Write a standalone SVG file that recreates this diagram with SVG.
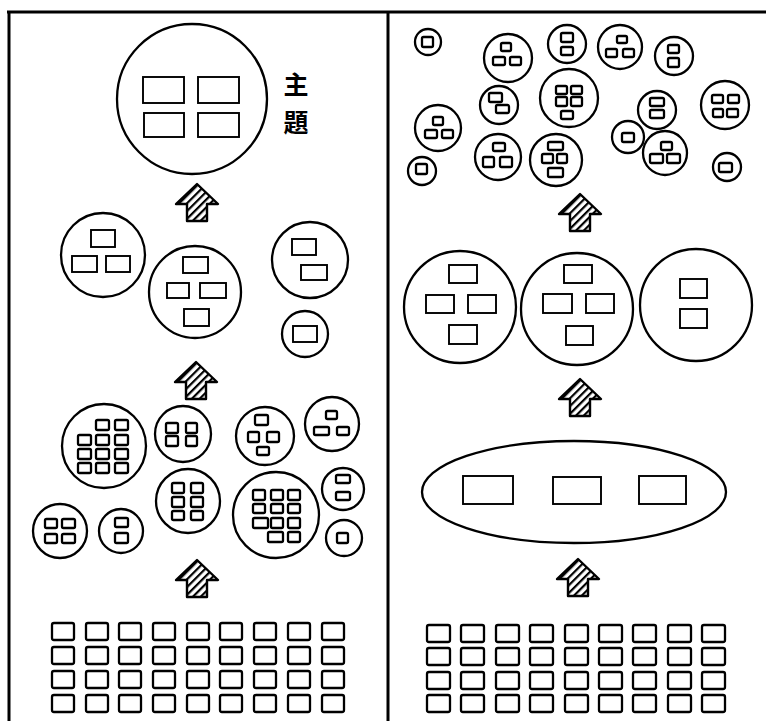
<svg xmlns="http://www.w3.org/2000/svg" width="766" height="721" viewBox="0 0 766 721">
<style>
.f{stroke:#000;stroke-width:3;fill:none}
.c{fill:none;stroke:#000;stroke-width:2.3}
.r{fill:none;stroke:#000;stroke-width:1.9}
.s{fill:none;stroke:#000;stroke-width:2.3}
.t{font-family:"Noto Sans CJK TC","Noto Sans CJK SC",sans-serif;font-size:25px;font-weight:bold;fill:#000;text-anchor:middle}
</style>
<defs>
<pattern id="hatch" patternUnits="userSpaceOnUse" width="5.5" height="5.5" patternTransform="rotate(45)">
<line x1="1" y1="0" x2="1" y2="5.5" stroke="#000" stroke-width="2.4"/>
</pattern>
<path id="arrow" d="M0,0 L21,20 L10,20 L10,37 L-10,37 L-10,20 L-21,20 Z" fill="url(#hatch)" stroke="#000" stroke-width="2.4" stroke-linejoin="round"/>
</defs>
<rect width="766" height="721" fill="#fff"/>
<g id="frame">
<line class="f" x1="7" y1="12" x2="766" y2="12"/>
<line class="f" x1="9" y1="11" x2="9" y2="721"/>
<line class="f" x1="388" y1="12" x2="388" y2="721"/>
</g>
<g id="connectors">
<use href="#arrow" x="197" y="184"/>
<use href="#arrow" x="196" y="362"/>
<use href="#arrow" x="197" y="560"/>
<use href="#arrow" x="580" y="194"/>
<use href="#arrow" x="580" y="379"/>
<use href="#arrow" x="578" y="559"/>
</g>
<g id="theme">
<circle class="c" cx="192" cy="99" r="75"/>
<rect class="r" x="143" y="77" width="41" height="26"/>
<rect class="r" x="198" y="77" width="41" height="26"/>
<rect class="r" x="144" y="113" width="40" height="24"/>
<rect class="r" x="198" y="113" width="41" height="24"/>
<text class="t" x="296" y="94">主</text>
<text class="t" x="296" y="132">題</text>
</g>
<g id="L2a"><circle class="c" cx="103" cy="255" r="42"/>
<rect class="r" x="91" y="230" width="24" height="17"/><rect class="r" x="72" y="256" width="25" height="16"/><rect class="r" x="106" y="256" width="24" height="16"/></g>
<g id="L2b"><circle class="c" cx="195" cy="292" r="46"/>
<rect class="r" x="183" y="257" width="25" height="16"/><rect class="r" x="167" y="283" width="22" height="15"/><rect class="r" x="200" y="283" width="26" height="15"/><rect class="r" x="184" y="309" width="25" height="17"/></g>
<g id="L2c"><circle class="c" cx="310" cy="260" r="38"/>
<rect class="r" x="292" y="239" width="24" height="16"/><rect class="r" x="301" y="265" width="26" height="15"/></g>
<g id="L2d"><circle class="c" cx="305" cy="334" r="23"/>
<rect class="r" x="293" y="326" width="24" height="16"/></g>
<g id="L3a"><circle class="c" cx="104" cy="446" r="42"/>
<rect class="s" x="96" y="420" width="13" height="10" rx="1.5"/><rect class="s" x="115" y="420" width="13" height="10" rx="1.5"/>
<rect class="s" x="78" y="435" width="13" height="10" rx="1.5"/><rect class="s" x="96" y="435" width="13" height="10" rx="1.5"/><rect class="s" x="115" y="435" width="13" height="10" rx="1.5"/>
<rect class="s" x="78" y="449" width="13" height="10" rx="1.5"/><rect class="s" x="96" y="449" width="13" height="10" rx="1.5"/><rect class="s" x="115" y="449" width="13" height="10" rx="1.5"/>
<rect class="s" x="78" y="463" width="13" height="10" rx="1.5"/><rect class="s" x="96" y="463" width="13" height="10" rx="1.5"/><rect class="s" x="115" y="463" width="13" height="10" rx="1.5"/></g>
<g id="L3b"><circle class="c" cx="183" cy="434" r="28"/>
<rect class="s" x="166" y="423" width="12" height="10" rx="1.5"/><rect class="s" x="186" y="423" width="11" height="10" rx="1.5"/>
<rect class="s" x="166" y="436" width="12" height="10" rx="1.5"/><rect class="s" x="186" y="436" width="11" height="10" rx="1.5"/></g>
<g id="L3c"><circle class="c" cx="265" cy="436" r="29"/>
<rect class="s" x="255" y="415" width="13" height="10" rx="1.5"/><rect class="s" x="248" y="432" width="11" height="10" rx="1.5"/><rect class="s" x="267" y="432" width="12" height="10" rx="1.5"/><rect class="s" x="257" y="447" width="12" height="8" rx="1.5"/></g>
<g id="L3d"><circle class="c" cx="332" cy="424" r="27"/>
<rect class="s" x="326" y="411" width="11" height="8" rx="1.5"/><rect class="s" x="314" y="427" width="15" height="8" rx="1.5"/><rect class="s" x="337" y="427" width="12" height="8" rx="1.5"/></g>
<g id="L3e"><circle class="c" cx="188" cy="501" r="32"/>
<rect class="s" x="172" y="483" width="12" height="10" rx="1.5"/><rect class="s" x="191" y="483" width="12" height="10" rx="1.5"/>
<rect class="s" x="172" y="497" width="12" height="10" rx="1.5"/><rect class="s" x="191" y="497" width="12" height="10" rx="1.5"/>
<rect class="s" x="172" y="511" width="12" height="9" rx="1.5"/><rect class="s" x="191" y="511" width="12" height="9" rx="1.5"/></g>
<g id="L3f"><circle class="c" cx="276" cy="515" r="43"/>
<rect class="s" x="253" y="490" width="12" height="10" rx="1.5"/><rect class="s" x="271" y="490" width="12" height="10" rx="1.5"/><rect class="s" x="288" y="490" width="12" height="10" rx="1.5"/>
<rect class="s" x="253" y="504" width="12" height="9" rx="1.5"/><rect class="s" x="271" y="504" width="12" height="9" rx="1.5"/><rect class="s" x="288" y="504" width="12" height="9" rx="1.5"/>
<rect class="s" x="253" y="518" width="15" height="10" rx="1.5"/><rect class="s" x="271" y="518" width="12" height="10" rx="1.5"/><rect class="s" x="288" y="518" width="12" height="10" rx="1.5"/>
<rect class="s" x="268" y="532" width="15" height="10" rx="1.5"/><rect class="s" x="288" y="532" width="12" height="10" rx="1.5"/></g>
<g id="L3g"><circle class="c" cx="343" cy="489" r="21"/>
<rect class="s" x="336" y="475" width="14" height="8" rx="1.5"/><rect class="s" x="336" y="492" width="14" height="8" rx="1.5"/></g>
<g id="L3h"><circle class="c" cx="344" cy="538" r="18"/>
<rect class="s" x="337" y="533" width="11" height="10" rx="1.5"/></g>
<g id="L3i"><circle class="c" cx="60" cy="531" r="27"/>
<rect class="s" x="45" y="519" width="12" height="9" rx="1.5"/><rect class="s" x="62" y="519" width="13" height="9" rx="1.5"/>
<rect class="s" x="45" y="534" width="12" height="9" rx="1.5"/><rect class="s" x="62" y="534" width="13" height="9" rx="1.5"/></g>
<g id="L3j"><circle class="c" cx="121" cy="531" r="22"/>
<rect class="s" x="115" y="518" width="13" height="9" rx="1.5"/><rect class="s" x="115" y="533" width="13" height="10" rx="1.5"/></g>
<g id="gridL">
<rect class="s" x="52" y="623" width="22" height="17" rx="2"/><rect class="s" x="86" y="623" width="22" height="17" rx="2"/><rect class="s" x="119" y="623" width="22" height="17" rx="2"/><rect class="s" x="153" y="623" width="22" height="17" rx="2"/><rect class="s" x="187" y="623" width="22" height="17" rx="2"/><rect class="s" x="220" y="623" width="22" height="17" rx="2"/><rect class="s" x="254" y="623" width="22" height="17" rx="2"/><rect class="s" x="288" y="623" width="22" height="17" rx="2"/><rect class="s" x="322" y="623" width="22" height="17" rx="2"/>
<rect class="s" x="52" y="647" width="22" height="17" rx="2"/><rect class="s" x="86" y="647" width="22" height="17" rx="2"/><rect class="s" x="119" y="647" width="22" height="17" rx="2"/><rect class="s" x="153" y="647" width="22" height="17" rx="2"/><rect class="s" x="187" y="647" width="22" height="17" rx="2"/><rect class="s" x="220" y="647" width="22" height="17" rx="2"/><rect class="s" x="254" y="647" width="22" height="17" rx="2"/><rect class="s" x="288" y="647" width="22" height="17" rx="2"/><rect class="s" x="322" y="647" width="22" height="17" rx="2"/>
<rect class="s" x="52" y="671" width="22" height="17" rx="2"/><rect class="s" x="86" y="671" width="22" height="17" rx="2"/><rect class="s" x="119" y="671" width="22" height="17" rx="2"/><rect class="s" x="153" y="671" width="22" height="17" rx="2"/><rect class="s" x="187" y="671" width="22" height="17" rx="2"/><rect class="s" x="220" y="671" width="22" height="17" rx="2"/><rect class="s" x="254" y="671" width="22" height="17" rx="2"/><rect class="s" x="288" y="671" width="22" height="17" rx="2"/><rect class="s" x="322" y="671" width="22" height="17" rx="2"/>
<rect class="s" x="52" y="695" width="22" height="17" rx="2"/><rect class="s" x="86" y="695" width="22" height="17" rx="2"/><rect class="s" x="119" y="695" width="22" height="17" rx="2"/><rect class="s" x="153" y="695" width="22" height="17" rx="2"/><rect class="s" x="187" y="695" width="22" height="17" rx="2"/><rect class="s" x="220" y="695" width="22" height="17" rx="2"/><rect class="s" x="254" y="695" width="22" height="17" rx="2"/><rect class="s" x="288" y="695" width="22" height="17" rx="2"/><rect class="s" x="322" y="695" width="22" height="17" rx="2"/>
</g>
<g id="R1a"><circle class="c" cx="428" cy="42" r="13"/><rect class="s" x="422" y="37" width="11" height="10" rx="1.5"/></g>
<g id="R1b"><circle class="c" cx="508" cy="58" r="24"/><rect class="s" x="501" y="43" width="10" height="8" rx="1.5"/><rect class="s" x="493" y="57" width="12" height="8" rx="1.5"/><rect class="s" x="510" y="57" width="11" height="8" rx="1.5"/></g>
<g id="R1c"><circle class="c" cx="567" cy="44" r="19"/><rect class="s" x="561" y="33" width="12" height="9" rx="1.5"/><rect class="s" x="561" y="47" width="12" height="8" rx="1.5"/></g>
<g id="R1d"><circle class="c" cx="620" cy="47" r="22"/><rect class="s" x="617" y="36" width="10" height="7" rx="1.5"/><rect class="s" x="606" y="49" width="11" height="8" rx="1.5"/><rect class="s" x="623" y="49" width="11" height="8" rx="1.5"/></g>
<g id="R1e"><circle class="c" cx="674" cy="56" r="19"/><rect class="s" x="668" y="45" width="11" height="8" rx="1.5"/><rect class="s" x="668" y="58" width="11" height="9" rx="1.5"/></g>
<g id="R1f"><circle class="c" cx="569" cy="98" r="29"/><rect class="s" x="556" y="86" width="11" height="8" rx="1.5"/><rect class="s" x="571" y="86" width="11" height="8" rx="1.5"/><rect class="s" x="556" y="97" width="11" height="9" rx="1.5"/><rect class="s" x="571" y="97" width="11" height="9" rx="1.5"/><rect class="s" x="561" y="111" width="12" height="8" rx="1.5"/></g>
<g id="R1g"><circle class="c" cx="499" cy="105" r="19"/><rect class="s" x="489" y="93" width="13" height="9" rx="1.5"/><rect class="s" x="496" y="105" width="13" height="8" rx="1.5"/></g>
<g id="R1h"><circle class="c" cx="657" cy="110" r="19"/><rect class="s" x="650" y="98" width="14" height="8" rx="1.5"/><rect class="s" x="650" y="110" width="14" height="8" rx="1.5"/></g>
<g id="R1i"><circle class="c" cx="725" cy="105" r="24"/><rect class="s" x="712" y="95" width="11" height="8" rx="1.5"/><rect class="s" x="728" y="95" width="11" height="8" rx="1.5"/><rect class="s" x="713" y="109" width="10" height="8" rx="1.5"/><rect class="s" x="727" y="109" width="11" height="8" rx="1.5"/></g>
<g id="R1j"><circle class="c" cx="438" cy="128" r="23"/><rect class="s" x="433" y="117" width="10" height="8" rx="1.5"/><rect class="s" x="425" y="130" width="12" height="8" rx="1.5"/><rect class="s" x="442" y="130" width="11" height="8" rx="1.5"/></g>
<g id="R1k"><circle class="c" cx="422" cy="171" r="14"/><rect class="s" x="416" y="164" width="11" height="10" rx="1.5"/></g>
<g id="R1l"><circle class="c" cx="498" cy="157" r="23"/><rect class="s" x="493" y="143" width="12" height="8" rx="1.5"/><rect class="s" x="483" y="157" width="11" height="10" rx="1.5"/><rect class="s" x="500" y="157" width="12" height="10" rx="1.5"/></g>
<g id="R1m"><circle class="c" cx="556" cy="160" r="26"/><rect class="s" x="548" y="142" width="15" height="8" rx="1.5"/><rect class="s" x="542" y="154" width="11" height="9" rx="1.5"/><rect class="s" x="557" y="154" width="10" height="9" rx="1.5"/><rect class="s" x="548" y="168" width="15" height="9" rx="1.5"/></g>
<g id="R1n"><circle class="c" cx="628" cy="137" r="16"/><rect class="s" x="622" y="133" width="12" height="9" rx="1.5"/></g>
<g id="R1o"><circle class="c" cx="665" cy="153" r="22"/><rect class="s" x="661" y="142" width="11" height="8" rx="1.5"/><rect class="s" x="650" y="154" width="13" height="9" rx="1.5"/><rect class="s" x="667" y="154" width="13" height="9" rx="1.5"/></g>
<g id="R1p"><circle class="c" cx="727" cy="167" r="14"/><rect class="s" x="719" y="163" width="13" height="9" rx="1.5"/></g>
<g id="R2a"><circle class="c" cx="460" cy="307" r="56"/>
<rect class="r" x="449" y="265" width="28" height="18"/><rect class="r" x="426" y="295" width="28" height="18"/><rect class="r" x="468" y="295" width="28" height="18"/><rect class="r" x="449" y="325" width="28" height="19"/></g>
<g id="R2b"><circle class="c" cx="577" cy="309" r="56"/>
<rect class="r" x="564" y="265" width="28" height="18"/><rect class="r" x="543" y="294" width="29" height="19"/><rect class="r" x="586" y="294" width="28" height="19"/><rect class="r" x="566" y="326" width="27" height="19"/></g>
<g id="R2c"><circle class="c" cx="696" cy="305" r="56"/>
<rect class="r" x="680" y="279" width="27" height="19"/><rect class="r" x="680" y="309" width="27" height="19"/></g>
<g id="R3"><ellipse class="c" cx="574" cy="492" rx="152" ry="51"/>
<rect class="r" x="463" y="476" width="50" height="28"/><rect class="r" x="553" y="477" width="48" height="27"/><rect class="r" x="639" y="476" width="47" height="28"/></g>
<g id="gridR">
<rect class="s" x="427" y="625" width="23" height="17" rx="2"/><rect class="s" x="461" y="625" width="23" height="17" rx="2"/><rect class="s" x="496" y="625" width="23" height="17" rx="2"/><rect class="s" x="530" y="625" width="23" height="17" rx="2"/><rect class="s" x="565" y="625" width="23" height="17" rx="2"/><rect class="s" x="599" y="625" width="23" height="17" rx="2"/><rect class="s" x="633" y="625" width="23" height="17" rx="2"/><rect class="s" x="668" y="625" width="23" height="17" rx="2"/><rect class="s" x="702" y="625" width="23" height="17" rx="2"/>
<rect class="s" x="427" y="648" width="23" height="17" rx="2"/><rect class="s" x="461" y="648" width="23" height="17" rx="2"/><rect class="s" x="496" y="648" width="23" height="17" rx="2"/><rect class="s" x="530" y="648" width="23" height="17" rx="2"/><rect class="s" x="565" y="648" width="23" height="17" rx="2"/><rect class="s" x="599" y="648" width="23" height="17" rx="2"/><rect class="s" x="633" y="648" width="23" height="17" rx="2"/><rect class="s" x="668" y="648" width="23" height="17" rx="2"/><rect class="s" x="702" y="648" width="23" height="17" rx="2"/>
<rect class="s" x="427" y="672" width="23" height="17" rx="2"/><rect class="s" x="461" y="672" width="23" height="17" rx="2"/><rect class="s" x="496" y="672" width="23" height="17" rx="2"/><rect class="s" x="530" y="672" width="23" height="17" rx="2"/><rect class="s" x="565" y="672" width="23" height="17" rx="2"/><rect class="s" x="599" y="672" width="23" height="17" rx="2"/><rect class="s" x="633" y="672" width="23" height="17" rx="2"/><rect class="s" x="668" y="672" width="23" height="17" rx="2"/><rect class="s" x="702" y="672" width="23" height="17" rx="2"/>
<rect class="s" x="427" y="695" width="23" height="17" rx="2"/><rect class="s" x="461" y="695" width="23" height="17" rx="2"/><rect class="s" x="496" y="695" width="23" height="17" rx="2"/><rect class="s" x="530" y="695" width="23" height="17" rx="2"/><rect class="s" x="565" y="695" width="23" height="17" rx="2"/><rect class="s" x="599" y="695" width="23" height="17" rx="2"/><rect class="s" x="633" y="695" width="23" height="17" rx="2"/><rect class="s" x="668" y="695" width="23" height="17" rx="2"/><rect class="s" x="702" y="695" width="23" height="17" rx="2"/>
</g>
</svg>
